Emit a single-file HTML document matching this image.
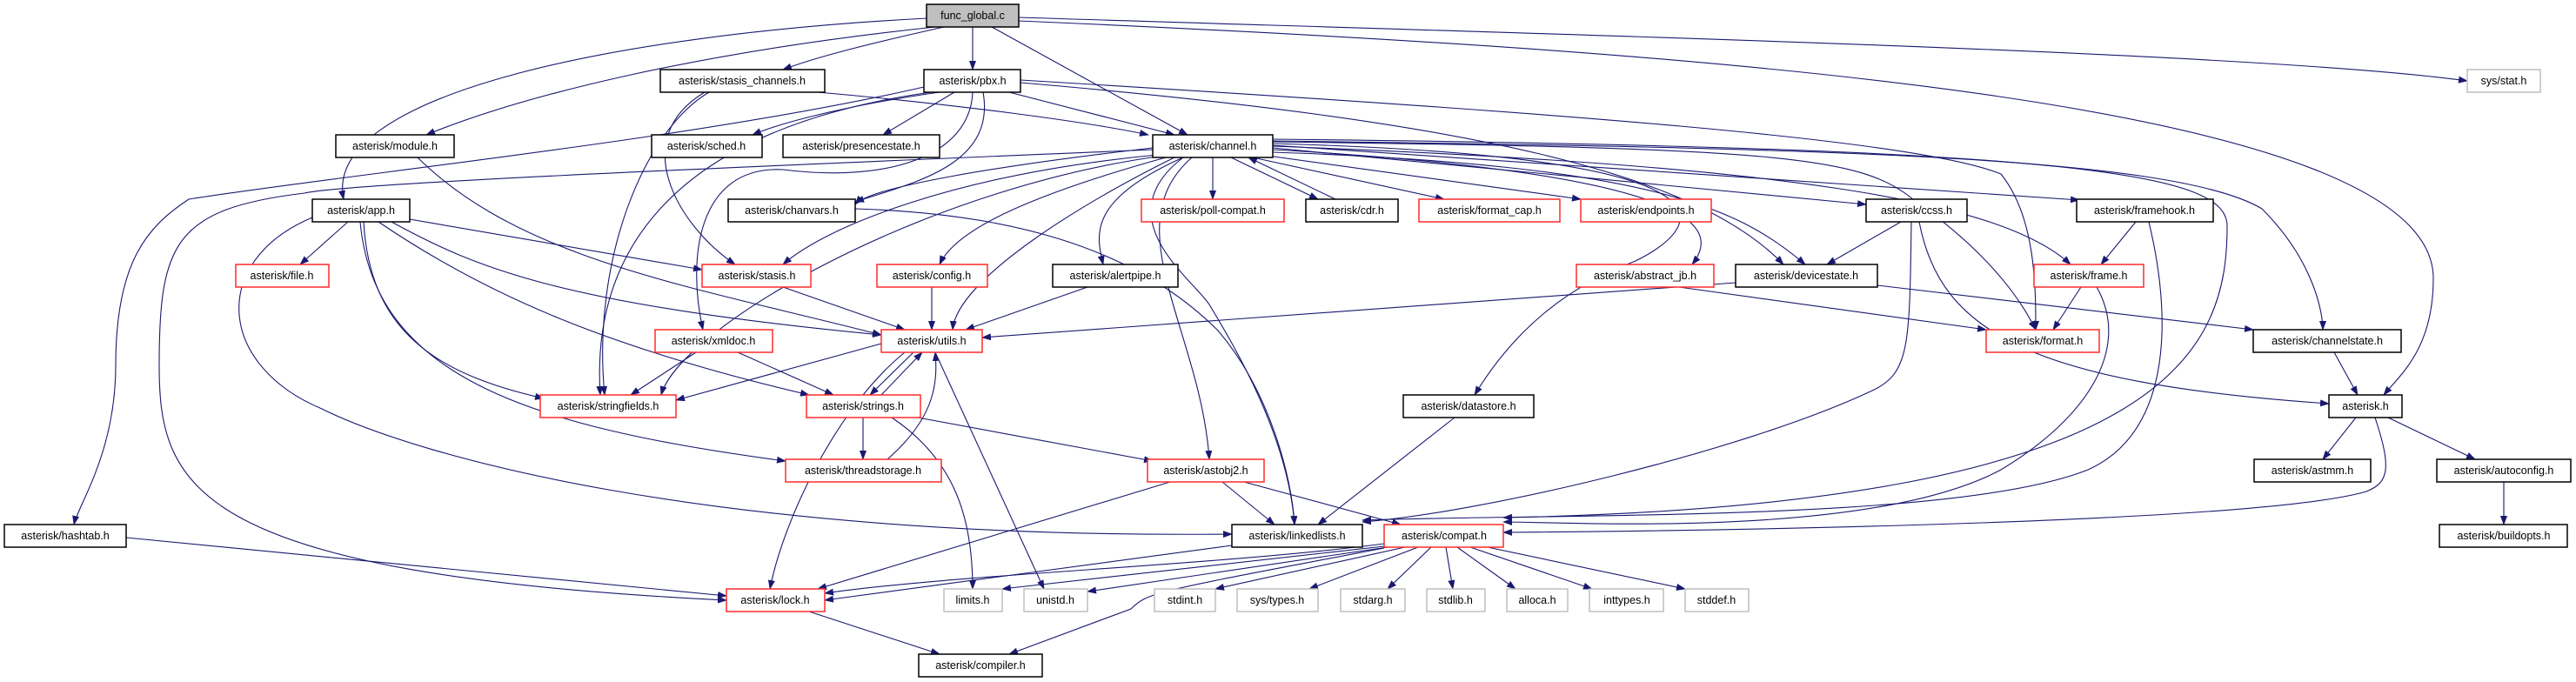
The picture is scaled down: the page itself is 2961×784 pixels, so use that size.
<!DOCTYPE html>
<html><head><meta charset="utf-8"><style>
html,body{margin:0;padding:0;background:#fff;}
svg{display:block;}
text{font-family:"Liberation Sans",sans-serif;font-size:12.5px;fill:#000;}
.e{fill:none;stroke:#191970;stroke-width:1.1;marker-end:url(#a);}
.b{fill:#fff;stroke:#000;stroke-width:1.5;}
.r{fill:#fff;stroke:#ff2a2a;stroke-width:1.5;}
.g{fill:#fff;stroke:#bfbfbf;stroke-width:1.5;}
</style></head><body>
<svg width="2961" height="784" viewBox="0 0 2961 784" xmlns="http://www.w3.org/2000/svg">
<defs><marker id="a" markerWidth="11" markerHeight="8" refX="10" refY="4" orient="auto" markerUnits="userSpaceOnUse"><path d="M0,0 L11,4 L0,8 z" fill="#191970"/></marker></defs>
<g>
<path class="e" d="M1066,21 C700,40 370,110 395,229"/>
<path class="e" d="M1075,31 C800,60 600,110 490,155"/>
<path class="e" d="M1085,31 C1000,50 940,65 900,80"/>
<path class="e" d="M1118,31 L1118,80"/>
<path class="e" d="M1140,31 L1365,155"/>
<path class="e" d="M1171,20 C1800,40 2600,60 2836,93"/>
<path class="e" d="M1171,24 C2000,60 2797,120 2797,320 C2797,400 2760,430 2740,454"/>
<path class="e" d="M940,106 C1100,120 1250,140 1320,155"/>
<path class="e" d="M815,106 C740,150 680,300 695,454"/>
<path class="e" d="M810,106 C720,160 780,260 845,304"/>
<path class="e" d="M1080,106 C980,120 900,140 865,155"/>
<path class="e" d="M1097,106 L1015,155"/>
<path class="e" d="M1160,106 L1350,155"/>
<path class="e" d="M1062,100 C800,160 400,200 217,229 C170,260 133,300 133,420 C133,520 90,580 85,603"/>
<path class="e" d="M1325,172 C900,190 400,210 350,222 C200,240 183,280 183,420 C183,560 220,660 835,690"/>
<path class="e" d="M1070,106 C760,150 680,300 690,454"/>
<path class="e" d="M1118,106 C1115,180 1020,210 900,195 C800,190 790,300 808,379"/>
<path class="e" d="M1130,106 C1145,190 1050,210 983,232"/>
<path class="e" d="M1173,95 C1700,140 1950,200 2050,304"/>
<path class="e" d="M1173,92 C1800,130 2200,160 2300,200 C2340,250 2340,330 2340,379"/>
<path class="e" d="M1325,170 C1150,190 1000,215 983,235"/>
<path class="e" d="M1330,178 C1100,200 950,260 900,304"/>
<path class="e" d="M1330,180 C1050,220 780,380 760,454"/>
<path class="e" d="M1350,181 C1250,230 1100,320 1095,379"/>
<path class="e" d="M1340,181 C1200,220 1100,260 1080,304"/>
<path class="e" d="M1360,181 C1250,230 1260,270 1268,304"/>
<path class="e" d="M1394,181 L1394,229"/>
<path class="e" d="M1415,181 L1515,229"/>
<path class="e" d="M1535,229 L1435,181"/>
<path class="e" d="M1440,181 L1660,229"/>
<path class="e" d="M1450,178 L1817,229"/>
<path class="e" d="M1463,172 C1950,200 1980,260 1945,304"/>
<path class="e" d="M1463,170 L2145,235"/>
<path class="e" d="M1463,167 L2390,230"/>
<path class="e" d="M1463,168 C2050,190 2300,230 2380,304"/>
<path class="e" d="M1463,163 C2050,170 2140,180 2200,230 C2300,300 2330,360 2340,379"/>
<path class="e" d="M1463,175 C1900,190 2000,240 2075,304"/>
<path class="e" d="M1463,162 C2100,170 2500,180 2600,240 C2660,300 2670,360 2670,379"/>
<path class="e" d="M1360,181 C1270,250 1370,320 1390,350 C1420,400 1480,500 1488,603"/>
<path class="e" d="M1370,181 C1280,260 1380,380 1390,528"/>
<path class="e" d="M1463,165 C2020,180 1960,260 1880,300 C1800,330 1740,380 1695,454"/>
<path class="e" d="M1463,160 C2400,170 2560,200 2560,260 C2560,400 2500,580 1728,595"/>
<path class="e" d="M2185,255 L2100,304"/>
<path class="e" d="M2206,255 C2230,380 2330,440 2677,464"/>
<path class="e" d="M2197,255 C2195,400 2195,430 2150,450 C2000,520 1700,590 1566,600"/>
<path class="e" d="M2455,255 L2415,304"/>
<path class="e" d="M2470,255 C2500,380 2490,500 2400,540 C2250,600 1800,590 1566,598"/>
<path class="e" d="M2392,330 L2360,379"/>
<path class="e" d="M2410,330 C2450,400 2400,480 2300,540 C2150,620 1800,600 1728,600"/>
<path class="e" d="M1930,330 L2283,379"/>
<path class="e" d="M1995,325 L1129,388"/>
<path class="e" d="M2158,328 L2590,379"/>
<path class="e" d="M2683,405 L2710,454"/>
<path class="e" d="M2708,480 L2670,528"/>
<path class="e" d="M2745,480 L2845,528"/>
<path class="e" d="M2730,480 C2750,540 2745,555 2720,565 C2600,600 2000,610 1728,612"/>
<path class="e" d="M2878,554 L2878,603"/>
<path class="e" d="M480,181 C600,300 800,330 1013,385"/>
<path class="e" d="M400,255 L345,304"/>
<path class="e" d="M471,252 L807,310"/>
<path class="e" d="M450,255 C550,310 650,350 1013,385"/>
<path class="e" d="M435,255 C560,340 700,400 930,454"/>
<path class="e" d="M418,255 C425,380 500,430 625,458"/>
<path class="e" d="M414,255 C430,430 600,490 903,530"/>
<path class="e" d="M359,250 C240,300 250,420 370,470 C470,520 800,620 1416,614"/>
<path class="e" d="M983,240 C1150,245 1300,280 1400,380 C1460,450 1485,550 1488,603"/>
<path class="e" d="M900,330 L1040,379"/>
<path class="e" d="M1071,330 L1071,379"/>
<path class="e" d="M1250,330 L1110,379"/>
<path class="e" d="M800,405 L725,454"/>
<path class="e" d="M848,405 L958,454"/>
<path class="e" d="M1013,395 L777,460"/>
<path class="e" d="M1050,405 L1000,454"/>
<path class="e" d="M1013,454 L1060,405"/>
<path class="e" d="M1040,405 C960,470 900,600 885,677"/>
<path class="e" d="M1075,405 L1200,677"/>
<path class="e" d="M992,480 L992,528"/>
<path class="e" d="M1055,480 L1325,530"/>
<path class="e" d="M1025,480 C1100,530 1118,600 1118,677"/>
<path class="e" d="M1020,528 C1075,480 1078,440 1075,405"/>
<path class="e" d="M1405,554 L1465,603"/>
<path class="e" d="M1430,554 L1610,603"/>
<path class="e" d="M1345,554 L940,677"/>
<path class="e" d="M1672,480 L1515,603"/>
<path class="e" d="M1416,627 L948,690"/>
<path class="e" d="M1591,625 C1400,650 1100,660 948,682"/>
<path class="e" d="M1591,628 L1152,677"/>
<path class="e" d="M1595,629 L1250,680"/>
<path class="e" d="M1615,629 L1397,677"/>
<path class="e" d="M1630,629 L1505,677"/>
<path class="e" d="M1645,629 L1595,677"/>
<path class="e" d="M1662,629 L1670,677"/>
<path class="e" d="M1675,629 L1742,677"/>
<path class="e" d="M1690,629 L1830,677"/>
<path class="e" d="M1710,629 L1937,677"/>
<path class="e" d="M1591,630 C1330,680 1320,680 1300,700 L1160,752"/>
<path class="e" d="M930,703 L1080,752"/>
<path class="e" d="M145,618 L835,685"/>
</g>
<g>
<rect x="1065" y="5" width="106" height="26" fill="#bfbfbf" stroke="#000" stroke-width="1.5"/><text x="1118" y="22" text-anchor="middle">func_global.c</text>
<rect class="b" x="759" y="80" width="189" height="26"/><text x="853" y="97" text-anchor="middle">asterisk/stasis_channels.h</text>
<rect class="b" x="1062" y="80" width="111" height="26"/><text x="1118" y="97" text-anchor="middle">asterisk/pbx.h</text>
<rect class="g" x="2836" y="80" width="84" height="26"/><text x="2878" y="97" text-anchor="middle">sys/stat.h</text>
<rect class="b" x="386" y="155" width="136" height="26"/><text x="454" y="172" text-anchor="middle">asterisk/module.h</text>
<rect class="b" x="749" y="155" width="127" height="26"/><text x="812" y="172" text-anchor="middle">asterisk/sched.h</text>
<rect class="b" x="900" y="155" width="180" height="26"/><text x="990" y="172" text-anchor="middle">asterisk/presencestate.h</text>
<rect class="b" x="1325" y="155" width="138" height="26"/><text x="1394" y="172" text-anchor="middle">asterisk/channel.h</text>
<rect class="b" x="359" y="229" width="112" height="26"/><text x="415" y="246" text-anchor="middle">asterisk/app.h</text>
<rect class="b" x="837" y="229" width="146" height="26"/><text x="910" y="246" text-anchor="middle">asterisk/chanvars.h</text>
<rect class="r" x="1312" y="229" width="164" height="26"/><text x="1394" y="246" text-anchor="middle">asterisk/poll-compat.h</text>
<rect class="b" x="1501" y="229" width="106" height="26"/><text x="1554" y="246" text-anchor="middle">asterisk/cdr.h</text>
<rect class="r" x="1631" y="229" width="162" height="26"/><text x="1712" y="246" text-anchor="middle">asterisk/format_cap.h</text>
<rect class="r" x="1817" y="229" width="150" height="26"/><text x="1892" y="246" text-anchor="middle">asterisk/endpoints.h</text>
<rect class="b" x="2145" y="229" width="116" height="26"/><text x="2203" y="246" text-anchor="middle">asterisk/ccss.h</text>
<rect class="b" x="2387" y="229" width="157" height="26"/><text x="2465" y="246" text-anchor="middle">asterisk/framehook.h</text>
<rect class="r" x="271" y="304" width="107" height="26"/><text x="324" y="321" text-anchor="middle">asterisk/file.h</text>
<rect class="r" x="807" y="304" width="125" height="26"/><text x="870" y="321" text-anchor="middle">asterisk/stasis.h</text>
<rect class="r" x="1008" y="304" width="127" height="26"/><text x="1071" y="321" text-anchor="middle">asterisk/config.h</text>
<rect class="b" x="1210" y="304" width="144" height="26"/><text x="1282" y="321" text-anchor="middle">asterisk/alertpipe.h</text>
<rect class="r" x="1812" y="304" width="158" height="26"/><text x="1891" y="321" text-anchor="middle">asterisk/abstract_jb.h</text>
<rect class="b" x="1995" y="304" width="163" height="26"/><text x="2076" y="321" text-anchor="middle">asterisk/devicestate.h</text>
<rect class="r" x="2338" y="304" width="126" height="26"/><text x="2401" y="321" text-anchor="middle">asterisk/frame.h</text>
<rect class="r" x="753" y="379" width="135" height="26"/><text x="820" y="396" text-anchor="middle">asterisk/xmldoc.h</text>
<rect class="r" x="1013" y="379" width="116" height="26"/><text x="1071" y="396" text-anchor="middle">asterisk/utils.h</text>
<rect class="r" x="2283" y="379" width="130" height="26"/><text x="2348" y="396" text-anchor="middle">asterisk/format.h</text>
<rect class="b" x="2590" y="379" width="170" height="26"/><text x="2675" y="396" text-anchor="middle">asterisk/channelstate.h</text>
<rect class="r" x="621" y="454" width="156" height="26"/><text x="699" y="471" text-anchor="middle">asterisk/stringfields.h</text>
<rect class="r" x="927" y="454" width="131" height="26"/><text x="992" y="471" text-anchor="middle">asterisk/strings.h</text>
<rect class="b" x="1613" y="454" width="150" height="26"/><text x="1688" y="471" text-anchor="middle">asterisk/datastore.h</text>
<rect class="b" x="2677" y="454" width="84" height="26"/><text x="2719" y="471" text-anchor="middle">asterisk.h</text>
<rect class="r" x="903" y="528" width="179" height="26"/><text x="992" y="545" text-anchor="middle">asterisk/threadstorage.h</text>
<rect class="r" x="1319" y="528" width="134" height="26"/><text x="1386" y="545" text-anchor="middle">asterisk/astobj2.h</text>
<rect class="b" x="2591" y="528" width="134" height="26"/><text x="2658" y="545" text-anchor="middle">asterisk/astmm.h</text>
<rect class="b" x="2801" y="528" width="154" height="26"/><text x="2878" y="545" text-anchor="middle">asterisk/autoconfig.h</text>
<rect class="b" x="5" y="603" width="140" height="26"/><text x="75" y="620" text-anchor="middle">asterisk/hashtab.h</text>
<rect class="b" x="1416" y="603" width="150" height="26"/><text x="1491" y="620" text-anchor="middle">asterisk/linkedlists.h</text>
<rect class="r" x="1591" y="603" width="137" height="26"/><text x="1660" y="620" text-anchor="middle">asterisk/compat.h</text>
<rect class="b" x="2804" y="603" width="147" height="26"/><text x="2878" y="620" text-anchor="middle">asterisk/buildopts.h</text>
<rect class="r" x="835" y="677" width="113" height="26"/><text x="891" y="694" text-anchor="middle">asterisk/lock.h</text>
<rect class="g" x="1085" y="677" width="67" height="26"/><text x="1118" y="694" text-anchor="middle">limits.h</text>
<rect class="g" x="1177" y="677" width="73" height="26"/><text x="1213" y="694" text-anchor="middle">unistd.h</text>
<rect class="g" x="1327" y="677" width="70" height="26"/><text x="1362" y="694" text-anchor="middle">stdint.h</text>
<rect class="g" x="1422" y="677" width="93" height="26"/><text x="1468" y="694" text-anchor="middle">sys/types.h</text>
<rect class="g" x="1541" y="677" width="74" height="26"/><text x="1578" y="694" text-anchor="middle">stdarg.h</text>
<rect class="g" x="1640" y="677" width="67" height="26"/><text x="1673" y="694" text-anchor="middle">stdlib.h</text>
<rect class="g" x="1732" y="677" width="70" height="26"/><text x="1767" y="694" text-anchor="middle">alloca.h</text>
<rect class="g" x="1827" y="677" width="85" height="26"/><text x="1870" y="694" text-anchor="middle">inttypes.h</text>
<rect class="g" x="1937" y="677" width="73" height="26"/><text x="1973" y="694" text-anchor="middle">stddef.h</text>
<rect class="b" x="1056" y="752" width="142" height="26"/><text x="1127" y="769" text-anchor="middle">asterisk/compiler.h</text>
</g>
</svg>
</body></html>
